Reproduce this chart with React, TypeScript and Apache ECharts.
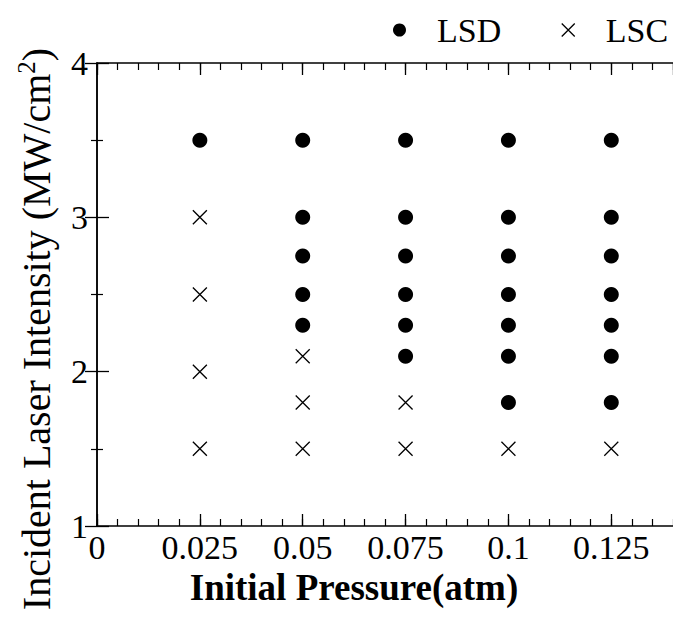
import React, { useEffect, useRef } from "react";
import * as echarts from "echarts";

// Initial pressure categories (atm)
const pressures = [0.025, 0.05, 0.075, 0.1, 0.125];
// LSD observations: laser intensity (MW/cm^2) per pressure
const lsdAt0025 = [3.5];
const lsdAt005 = [3.5, 3.0, 2.75, 2.5, 2.3];
const lsdAt0075 = [3.5, 3.0, 2.75, 2.5, 2.3, 2.1];
const lsdAt01 = [3.5, 3.0, 2.75, 2.5, 2.3, 2.1, 1.8];
const lsdAt0125 = [3.5, 3.0, 2.75, 2.5, 2.3, 2.1, 1.8];
// LSC observations
const lscAt0025 = [3.0, 2.5, 2.0, 1.5];
const lscAt005 = [2.1, 1.8, 1.5];
const lscAt0075 = [1.8, 1.5];
const lscAt01 = [1.5];
const lscAt0125 = [1.5];

const xTicks = [0, 0.025, 0.05, 0.075, 0.1, 0.125];
const yTicks = [1, 2, 3, 4];

const lsdByPressure = [lsdAt0025, lsdAt005, lsdAt0075, lsdAt01, lsdAt0125];
const lscByPressure = [lscAt0025, lscAt005, lscAt0075, lscAt01, lscAt0125];

const toPoints = (groups: number[][]) =>
  groups.flatMap((vals, i) => vals.map((v) => [pressures[i], v]));

const FONT = "Times New Roman, Liberation Serif, DejaVu Serif, serif";
const CROSS = "path://M0,0L10,10M10,0L0,10";

export default function App() {
  const ref = useRef<HTMLDivElement>(null);

  useEffect(() => {
    if (!ref.current) return;
    const chart = echarts.init(ref.current, undefined, { renderer: "svg" });
    const axisLine = { show: true, lineStyle: { color: "#000", width: 1.5 } };
    const fmt = (v: number) => {
      const r = +v.toFixed(3);
      return xTicks.includes(r) ? String(r) : "";
    };
    const xMin = 0;
    const xMax = 0.14;
    chart.setOption({
      animation: false,
      backgroundColor: "#fff",
      textStyle: { fontFamily: FONT },
      grid: { left: 97, top: 63, width: 587, height: 463, containLabel: false },
      legend: {
        left: 393,
        top: 8,
        padding: [5, 0, 5, 0],
        itemWidth: 13,
        itemHeight: 13,
        itemGap: 58,
        textStyle: {
          fontFamily: FONT,
          fontSize: 34,
          color: "#000",
          padding: [0, 0, 0, 26],
        },
        data: [
          { name: "LSD", icon: "circle", itemStyle: { color: "#000" } },
          {
            name: "LSC",
            icon: CROSS,
            itemStyle: { color: "none", borderColor: "#000", borderWidth: 1.3 },
          },
        ],
      },
      xAxis: [
        {
          type: "value",
          position: "bottom",
          min: xMin,
          max: xMax,
          interval: 0.025,
          axisLine,
          axisTick: { inside: true, length: 12, lineStyle: { color: "#000", width: 1.3 } },
          axisLabel: {
            fontFamily: FONT,
            fontSize: 34,
            lineHeight: 22,
            color: "#000",
            margin: 10,
            showMaxLabel: false,
            formatter: fmt,
          },
          splitLine: { show: false },
        },
        {
          type: "value",
          position: "bottom",
          min: xMin,
          max: xMax,
          interval: 0.005,
          axisLine: { show: false },
          axisTick: { inside: true, length: 7, lineStyle: { color: "#000", width: 1.2 } },
          axisLabel: { show: false },
          splitLine: { show: false },
        },
        {
          type: "value",
          position: "top",
          min: xMin,
          max: xMax,
          interval: 0.025,
          axisLine,
          axisTick: { inside: true, length: 12, lineStyle: { color: "#000", width: 1.3 } },
          axisLabel: { show: false },
          splitLine: { show: false },
        },
        {
          type: "value",
          position: "top",
          min: xMin,
          max: xMax,
          interval: 0.005,
          axisLine: { show: false },
          axisTick: { inside: true, length: 7, lineStyle: { color: "#000", width: 1.2 } },
          axisLabel: { show: false },
          splitLine: { show: false },
        },
      ],
      yAxis: [
        {
          type: "value",
          position: "left",
          min: yTicks[0],
          max: yTicks[yTicks.length - 1],
          interval: 1,
          axisLine,
          axisTick: { inside: true, length: 12, lineStyle: { color: "#000", width: 1.3 } },
          minorTick: { show: true, splitNumber: 2, length: 6, lineStyle: { color: "#000", width: 1.2 } },
          axisLabel: { fontFamily: FONT, fontSize: 34, lineHeight: 20, color: "#000", margin: 9 },
          splitLine: { show: false },
        },
        {
          type: "value",
          position: "right",
          min: yTicks[0],
          max: yTicks[yTicks.length - 1],
          interval: 1,
          axisLine,
          axisTick: { inside: true, length: 12, lineStyle: { color: "#000", width: 1.3 } },
          minorTick: { show: true, splitNumber: 2, length: 6, lineStyle: { color: "#000", width: 1.2 } },
          axisLabel: { show: false },
          splitLine: { show: false },
        },
      ],
      series: [
        {
          name: "LSD",
          type: "scatter",
          xAxisIndex: 0,
          yAxisIndex: 0,
          symbol: "circle",
          symbolSize: 15,
          itemStyle: { color: "#000", opacity: 1 },
          data: toPoints(lsdByPressure),
        },
        {
          name: "LSC",
          type: "scatter",
          xAxisIndex: 0,
          yAxisIndex: 0,
          symbol: CROSS,
          symbolSize: 14,
          itemStyle: { color: "none", borderColor: "#000", borderWidth: 1.3, opacity: 1 },
          data: toPoints(lscByPressure),
        },
      ],
      graphic: [
        {
          type: "text",
          x: 354,
          y: 587,
          style: {
            text: "Initial Pressure(atm)",
            fontFamily: FONT,
            fontWeight: "bold",
            fontSize: 37,
            fill: "#000",
            textAlign: "center",
            textVerticalAlign: "middle",
          },
        },
        {
          type: "text",
          x: 36,
          y: 329,
          rotation: Math.PI / 2,
          style: {
            text: "{n|Incident Laser Intensity (MW/cm}{s|2}{n|)}",
            textAlign: "center",
            textVerticalAlign: "middle",
            fill: "#000",
            rich: {
              n: { fontFamily: FONT, fontSize: 40, lineHeight: 44, fill: "#000" },
              s: {
                fontFamily: FONT,
                fontSize: 25,
                lineHeight: 25,
                padding: [0, 0, 20, 0],
                fill: "#000",
              },
            },
          },
        },
      ],
    });
    return () => chart.dispose();
  }, []);

  return (
    <div
      ref={ref}
      style={{ position: "absolute", left: 0, top: 0, width: 673, height: 617 }}
    />
  );
}
